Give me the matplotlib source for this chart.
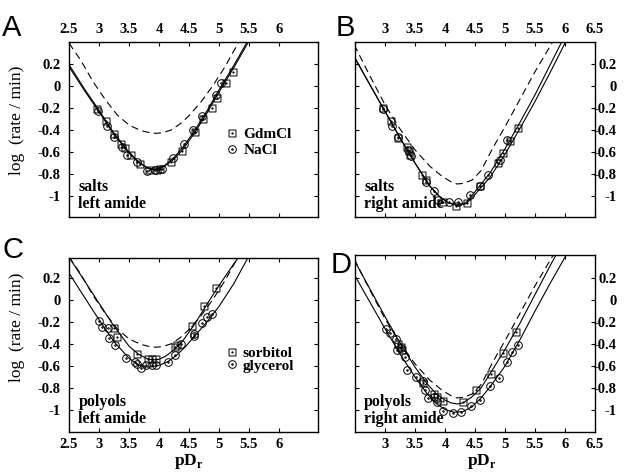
import numpy as np
import matplotlib
matplotlib.use('Agg')
import matplotlib.pyplot as plt
from matplotlib.path import Path

plt.rcParams['font.family'] = 'Liberation Serif'
plt.rcParams['font.weight'] = 'bold'
plt.rcParams['axes.unicode_minus'] = False
plt.rcParams['mathtext.fontset'] = 'custom'
plt.rcParams['mathtext.bf'] = 'Liberation Serif:bold'
plt.rcParams['mathtext.rm'] = 'Liberation Serif:bold'

# ---- data ----
# reference curves (dashed), shared by left / right amide panels
left_ref_x = [2.4, 2.55, 2.7, 2.9, 3.1, 3.3, 3.5, 3.7, 3.85, 3.95, 4.05, 4.2, 4.35, 4.5, 4.7, 4.9, 5.1, 5.3, 5.45]
left_ref_y = [0.48, 0.35, 0.23, 0.04, -0.12, -0.26, -0.355, -0.405, -0.425, -0.43, -0.425, -0.40, -0.345, -0.27, -0.145, 0.005, 0.175, 0.37, 0.52]
right_ref_x = [2.4, 2.5, 2.75, 3.0, 3.25, 3.5, 3.75, 3.95, 4.1, 4.2, 4.3, 4.45, 4.6, 4.8, 5.0, 5.25, 5.5, 5.75, 5.85]
right_ref_y = [0.47, 0.36, 0.09, -0.17, -0.39, -0.58, -0.73, -0.82, -0.87, -0.89, -0.885, -0.855, -0.77, -0.56, -0.37, -0.12, 0.13, 0.36, 0.45]

# panel A : salts, left amide
A_fit_x = [2.4, 2.75, 3.0, 3.25, 3.5, 3.65, 3.8, 3.9, 4.0, 4.1, 4.25, 4.4, 4.6, 4.8, 5.0, 5.25, 5.5, 5.6]
A_gdm_fit = [0.28, -0.02, -0.22, -0.43, -0.60, -0.685, -0.74, -0.755, -0.75, -0.725, -0.665, -0.575, -0.42, -0.245, -0.055, 0.17, 0.41, 0.50]
A_nacl_fit = [0.26, -0.035, -0.235, -0.44, -0.61, -0.69, -0.745, -0.76, -0.755, -0.72, -0.65, -0.555, -0.40, -0.225, -0.035, 0.19, 0.43, 0.52]
A_gdm_x = [2.97, 3.11, 3.25, 3.36, 3.43, 3.54, 3.69, 3.83, 3.97, 4.02, 4.20, 4.38, 4.60, 4.74, 4.88, 4.96, 5.12, 5.24]
A_gdm_y = [-0.21, -0.32, -0.44, -0.53, -0.56, -0.63, -0.71, -0.76, -0.76, -0.75, -0.69, -0.59, -0.42, -0.30, -0.20, -0.11, 0.03, 0.13]
A_nacl_x = [2.98, 3.13, 3.25, 3.39, 3.47, 3.64, 3.80, 3.94, 4.05, 4.23, 4.42, 4.57, 4.71, 4.95, 5.04]
A_nacl_y = [-0.23, -0.36, -0.46, -0.55, -0.63, -0.69, -0.77, -0.76, -0.75, -0.65, -0.53, -0.40, -0.27, -0.08, 0.03]

# panel B : salts, right amide
B_fit_x = [2.4, 2.75, 3.0, 3.25, 3.5, 3.75, 3.9, 4.05, 4.2, 4.35, 4.5, 4.75, 5.0, 5.25, 5.5, 5.75, 6.0, 6.1]
B_gdm_fit = [0.35, 0.01, -0.23, -0.47, -0.70, -0.91, -1.00, -1.06, -1.08, -1.06, -0.96, -0.79, -0.57, -0.33, -0.08, 0.19, 0.46, 0.57]
B_nacl_fit = [0.35, 0.01, -0.23, -0.47, -0.70, -0.91, -1.00, -1.06, -1.085, -1.07, -0.985, -0.83, -0.62, -0.385, -0.14, 0.12, 0.39, 0.49]
B_gdm_x = [2.96, 3.10, 3.22, 3.36, 3.40, 3.42, 3.61, 3.68, 3.97, 4.18, 4.36, 4.58, 4.89, 4.96, 5.08, 5.22]
B_gdm_y = [-0.20, -0.32, -0.47, -0.55, -0.59, -0.63, -0.81, -0.85, -1.05, -1.09, -1.06, -0.91, -0.70, -0.61, -0.50, -0.38]
B_nacl_x = [2.97, 3.11, 3.22, 3.38, 3.43, 3.68, 3.81, 3.89, 4.06, 4.22, 4.42, 4.58, 4.72, 4.92, 5.03]
B_nacl_y = [-0.21, -0.36, -0.46, -0.58, -0.64, -0.87, -0.95, -1.04, -1.05, -1.05, -0.99, -0.91, -0.81, -0.67, -0.49]

# panel C : polyols, left amide
C_sorb_fit_x = [2.4, 2.75, 3.0, 3.25, 3.5, 3.65, 3.8, 3.9, 4.0, 4.1, 4.25, 4.4, 4.6, 4.8, 5.0, 5.25, 5.4]
C_sorb_fit = [0.47, 0.18, -0.03, -0.24, -0.42, -0.49, -0.535, -0.545, -0.54, -0.515, -0.455, -0.37, -0.215, -0.04, 0.13, 0.33, 0.44]
C_gly_fit_x = [2.4, 2.75, 3.0, 3.25, 3.5, 3.65, 3.75, 3.85, 4.0, 4.15, 4.3, 4.45, 4.6, 4.8, 5.0, 5.25, 5.5]
C_gly_fit = [0.33, 0.03, -0.18, -0.38, -0.53, -0.59, -0.61, -0.61, -0.595, -0.56, -0.50, -0.42, -0.325, -0.20, -0.06, 0.15, 0.40]
C_sorb_x = [3.25, 3.30, 3.63, 3.82, 3.88, 3.95, 4.27, 4.30, 4.55, 4.75, 4.95]
C_sorb_y = [-0.26, -0.34, -0.49, -0.54, -0.54, -0.54, -0.43, -0.41, -0.24, -0.06, 0.11]
C_gly_x = [3.0, 3.05, 3.15, 3.17, 3.27, 3.45, 3.6, 3.63, 3.7, 3.78, 3.88, 3.95, 4.15, 4.27, 4.37, 4.58, 4.58, 4.72, 4.8, 4.88]
C_gly_y = [-0.19, -0.25, -0.26, -0.35, -0.41, -0.53, -0.56, -0.58, -0.62, -0.59, -0.59, -0.59, -0.56, -0.50, -0.40, -0.33, -0.31, -0.21, -0.16, -0.13]

# panel D : polyols, right amide
D_sorb_fit_x = [2.4, 2.5, 2.75, 3.0, 3.25, 3.5, 3.7, 3.85, 4.0, 4.1, 4.2, 4.3, 4.45, 4.6, 4.75, 5.0, 5.25, 5.5, 5.75, 5.9]
D_sorb_fit = [0.45, 0.35, 0.10, -0.15, -0.39, -0.61, -0.76, -0.85, -0.91, -0.935, -0.945, -0.935, -0.88, -0.80, -0.67, -0.45, -0.21, 0.05, 0.31, 0.46]
D_gly_fit_x = [2.4, 2.5, 2.75, 3.0, 3.25, 3.5, 3.7, 3.85, 4.0, 4.15, 4.3, 4.45, 4.6, 4.75, 5.0, 5.25, 5.5, 5.75, 6.0, 6.1]
D_gly_fit = [0.32, 0.22, -0.02, -0.26, -0.49, -0.70, -0.85, -0.94, -0.995, -1.02, -1.015, -0.97, -0.89, -0.79, -0.60, -0.36, -0.10, 0.15, 0.39, 0.49]
D_sorb_x = [3.22, 3.27, 3.28, 3.64, 3.81, 3.87, 3.97, 4.30, 4.52, 4.77, 4.96, 5.18]
D_sorb_y = [-0.40, -0.43, -0.45, -0.75, -0.85, -0.88, -0.92, -0.93, -0.82, -0.67, -0.48, -0.29]
D_gly_x = [3.02, 3.08, 3.18, 3.20, 3.27, 3.33, 3.37, 3.52, 3.63, 3.66, 3.72, 3.81, 3.87, 3.97, 4.14, 4.27, 4.44, 4.59, 4.75, 4.90, 5.03, 5.12, 5.22]
D_gly_y = [-0.26, -0.30, -0.35, -0.45, -0.44, -0.52, -0.64, -0.70, -0.74, -0.82, -0.89, -0.88, -0.93, -1.01, -1.03, -1.02, -0.96, -0.91, -0.78, -0.71, -0.56, -0.47, -0.41]

yticks = [-1, -0.8, -0.6, -0.4, -0.2, 0, 0.2]
ytick_labels = ['-1', '-0.8', '-0.6', '-0.4', '-0.2', '0', '0.2']
xticks_left = [2.5, 3, 3.5, 4, 4.5, 5, 5.5, 6]
xticks_right = [3, 3.5, 4, 4.5, 5, 5.5, 6, 6.5]

# square / circle markers with a dot in the middle
sq = Path([(-1, -1), (1, -1), (1, 1), (-1, 1), (-1, -1)],
          [Path.MOVETO, Path.LINETO, Path.LINETO, Path.LINETO, Path.CLOSEPOLY])
sq_mark = Path.make_compound_path(sq, Path.circle((0, 0), 0.18))
ci_mark = Path.make_compound_path(Path.circle((0, 0), 1), Path.circle((0, 0), 0.2))

W, H = 629, 473
fig = plt.figure(figsize=(W / 100, H / 100), dpi=100)


def make_ax(x0, y0, x1, y1):
    return fig.add_axes([x0 / W, 1 - y1 / H, (x1 - x0) / W, (y1 - y0) / H])


axA = make_ax(69, 42, 318, 217)
axB = make_ax(355, 42, 595, 217)
axC = make_ax(69, 258, 318, 432)
axD = make_ax(355, 255, 595, 432)

axA.set_xlim(2.5, 6.65); axA.set_ylim(-1.19, 0.40)
axB.set_xlim(2.5, 6.5); axB.set_ylim(-1.19, 0.40)
axC.set_xlim(2.5, 6.65); axC.set_ylim(-1.2, 0.38)
axD.set_xlim(2.5, 6.5); axD.set_ylim(-1.2, 0.41)

line_kw = dict(color='black', lw=0.8)
dash_kw = dict(color='black', lw=0.8, dashes=(6.5, 4))
mk_kw = dict(ls='none', color='black', mfc='none', mew=0.7)


def panel(ax, ref_x, ref_y, fits, sets):
    ax.plot(ref_x, ref_y, **dash_kw)
    for fx, fy in fits:
        ax.plot(fx, fy, **line_kw)
    hs = []
    for xs, ys, mk, ms in sets:
        h, = ax.plot(xs, ys, marker=mk, ms=ms, **mk_kw)
        hs.append(h)
    return hs


hA = panel(axA, left_ref_x, left_ref_y,
           [(A_fit_x, A_gdm_fit), (A_fit_x, A_nacl_fit)],
           [(A_gdm_x, A_gdm_y, sq_mark, 5), (A_nacl_x, A_nacl_y, ci_mark, 5.5)])
panel(axB, right_ref_x, right_ref_y,
      [(B_fit_x, B_gdm_fit), (B_fit_x, B_nacl_fit)],
      [(B_gdm_x, B_gdm_y, sq_mark, 5), (B_nacl_x, B_nacl_y, ci_mark, 5.5)])
hC = panel(axC, left_ref_x, left_ref_y,
           [(C_sorb_fit_x, C_sorb_fit), (C_gly_fit_x, C_gly_fit)],
           [(C_sorb_x, C_sorb_y, sq_mark, 5), (C_gly_x, C_gly_y, ci_mark, 5.5)])
panel(axD, right_ref_x, right_ref_y,
      [(D_sorb_fit_x, D_sorb_fit), (D_gly_fit_x, D_gly_fit)],
      [(D_sorb_x, D_sorb_y, sq_mark, 5), (D_gly_x, D_gly_y, ci_mark, 5.5)])

for ax, top, left in [(axA, True, True), (axB, True, False), (axC, False, True), (axD, False, False)]:
    ax.set_xticks(xticks_left if left else xticks_right)
    ax.set_xticklabels([('%g' % t) for t in (xticks_left if left else xticks_right)])
    ax.set_yticks(yticks)
    ax.set_yticklabels(ytick_labels)
    ax.tick_params(direction='in', length=3, width=0.8, top=True, bottom=True, left=True, right=True,
                   labeltop=top, labelbottom=not top, labelleft=left, labelright=not left,
                   labelsize=10.5)
    ax.tick_params(axis='x', pad=4)
    ax.tick_params(axis='y', pad=6 if left else 15.5)
    if not left:
        for lab in ax.get_yticklabels():
            lab.set_ha('right')
    for s in ax.spines.values():
        s.set_linewidth(1.0)

axA.set_ylabel('log  (rate / min)', fontsize=12.5)
axA.yaxis.set_label_coords(-0.175, 0.55)
axC.set_ylabel('log  (rate / min)', fontsize=12.5)
axC.yaxis.set_label_coords(-0.175, 0.60)
axC.set_xlabel(r'$\mathbf{pD}_\mathbf{r}$', fontsize=12.5)
axC.xaxis.set_label_coords(0.48, -0.115)
axD.set_xlabel(r'$\mathbf{pD}_\mathbf{r}$', fontsize=12.5)
axD.xaxis.set_label_coords(0.53, -0.115)

# panel annotations
for ax, l1, l2 in [(axA, 'salts', 'left amide'), (axB, 'salts', 'right amide'),
                   (axC, 'polyols', 'left amide'), (axD, 'polyols', 'right amide')]:
    ax.text(0.038, 0.149, l1, transform=ax.transAxes, fontsize=11.5, va='baseline')
    ax.text(0.038, 0.051, l2, transform=ax.transAxes, fontsize=11.5, va='baseline')

axA.legend(hA, ['GdmCl', 'NaCl'], loc='upper left', bbox_to_anchor=(0.63, 0.51),
           frameon=False, fontsize=11, handlelength=0.8, handletextpad=0.35,
           labelspacing=0.15, borderpad=0, borderaxespad=0)
axC.legend(hC, ['sorbitol', 'glycerol'], loc='upper left', bbox_to_anchor=(0.63, 0.49),
           frameon=False, fontsize=11, handlelength=0.8, handletextpad=0.3,
           labelspacing=-0.1, borderpad=0, borderaxespad=0)

for lab, x, y in [('A', 2, 36), ('B', 336, 36), ('C', 2, 258), ('D', 331, 273)]:
    fig.text(x / W, 1 - y / H, lab, fontsize=21, family='Liberation Sans', weight='normal', va='baseline')

fig.savefig('out.png', dpi=100)
